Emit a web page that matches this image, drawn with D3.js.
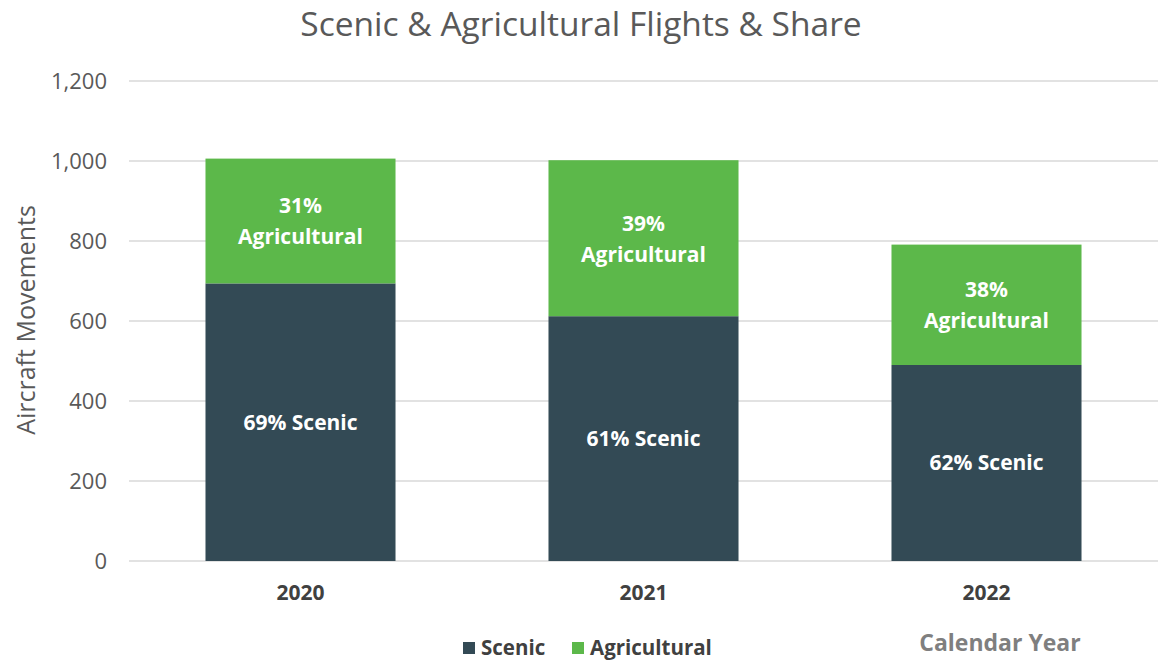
<!DOCTYPE html>
<html><head><meta charset="utf-8">
<script src="https://cdn.jsdelivr.net/npm/d3@7"></script>
<style>body{margin:0;background:#fff}svg{display:block}</style>
</head><body>
<svg id="c" width="1158" height="661"></svg>
<script>
const years = ["2020","2021","2022"];
const scenic = [694, 612, 490];
const agricultural = [312, 390, 301];
const scenicPct = ["69%","61%","62%"];
const agriPct = ["31%","39%","38%"];
const yTicks = [0,200,400,600,800,1000,1200];

const font = "'Open Sans', sans-serif";
const svg = d3.select("#c");
const W = 1158, H = 661;
const m = {left:129, right:0, top:81, bottom:100};
const x = d3.scaleBand().domain(years).range([m.left, W - m.right]).paddingInner(0.446).paddingOuter(0.223);
const y = d3.scaleLinear().domain([0,1200]).range([561, 81]);

// gridlines
svg.append("g").selectAll("line").data(yTicks).join("line")
  .attr("x1", m.left).attr("x2", W).attr("y1", d=>y(d)).attr("y2", d=>y(d))
  .attr("stroke", "#d9d9d9").attr("stroke-width", 1.5);

// y axis labels
const yAxis = d3.axisLeft(y).tickValues(yTicks).tickSize(0).tickPadding(0).tickFormat(d3.format(","));
const yg = svg.append("g").attr("transform", `translate(107,0)`).call(yAxis);
yg.select(".domain").remove();
yg.selectAll("text").attr("font-family", font).attr("font-size", 22).attr("fill", "#595959");

// bars
const data = years.map((yr,i)=>({yr, s:scenic[i], a:agricultural[i], sp:scenicPct[i], ap:agriPct[i]}));
const g = svg.append("g");
g.selectAll("rect.s").data(data).join("rect").attr("class","s")
  .attr("x", d=>x(d.yr)).attr("width", x.bandwidth())
  .attr("y", d=>y(d.s)).attr("height", d=>y(0)-y(d.s)).attr("fill", "#334a55");
g.selectAll("rect.a").data(data).join("rect").attr("class","a")
  .attr("x", d=>x(d.yr)).attr("width", x.bandwidth())
  .attr("y", d=>y(d.s+d.a)).attr("height", d=>y(d.s)-y(d.s+d.a)).attr("fill", "#5cb84a");

// labels in bars
g.selectAll("text.s").data(data).join("text").attr("class","s")
  .attr("x", d=>x(d.yr)+x.bandwidth()/2).attr("y", d=>(y(0)+y(d.s))/2)
  .attr("dy","0.35em").attr("text-anchor","middle")
  .attr("font-family", font).attr("font-weight","bold").attr("font-size",21).attr("fill","#fff")
  .text(d=>`${d.sp} Scenic`);
const at = g.selectAll("text.a").data(data).join("text").attr("class","a")
  .attr("text-anchor","middle")
  .attr("font-family", font).attr("font-weight","bold").attr("font-size",21).attr("fill","#fff");
at.append("tspan").attr("x", d=>x(d.yr)+x.bandwidth()/2).attr("y", d=>(y(d.s)+y(d.s+d.a))/2 - 15)
  .attr("dy","0.35em").text(d=>d.ap);
at.append("tspan").attr("x", d=>x(d.yr)+x.bandwidth()/2).attr("y", d=>(y(d.s)+y(d.s+d.a))/2 + 16)
  .attr("dy","0.35em").text("Agricultural");

// x axis labels
const xAxis = d3.axisBottom(x).tickSize(0).tickPadding(0);
const xg = svg.append("g").attr("transform","translate(0,585)").call(xAxis);
xg.select(".domain").remove();
xg.selectAll("text").attr("font-family", font).attr("font-weight","bold").attr("font-size",21).attr("fill","#404040");

// title
svg.append("text").attr("x", 581).attr("y", 36).attr("text-anchor","middle")
  .attr("font-family", font).attr("font-size", 33.5).attr("fill","#595959")
  .text("Scenic & Agricultural Flights & Share");

// y title
svg.append("text").attr("transform","translate(35,320) rotate(-90)").attr("text-anchor","middle")
  .attr("font-family", font).attr("font-size", 25).attr("fill","#595959")
  .text("Aircraft Movements");

// x title
svg.append("text").attr("x", 1000).attr("y", 651).attr("text-anchor","middle")
  .attr("font-family", font).attr("font-weight","bold").attr("font-size", 23).attr("fill","#7f7f7f")
  .text("Calendar Year");

// legend
const legend = [{k:"Scenic", c:"#334a55", x:463},{k:"Agricultural", c:"#5cb84a", x:572}];
const lg = svg.append("g").selectAll("g").data(legend).join("g").attr("transform", d=>`translate(${d.x},642)`);
lg.append("rect").attr("width",12).attr("height",12).attr("fill", d=>d.c);
lg.append("text").attr("x",18).attr("y",6).attr("dy","0.36em")
  .attr("font-family", font).attr("font-weight","bold").attr("font-size",20.5).attr("fill","#404040")
  .text(d=>d.k);
</script>
</body></html>
